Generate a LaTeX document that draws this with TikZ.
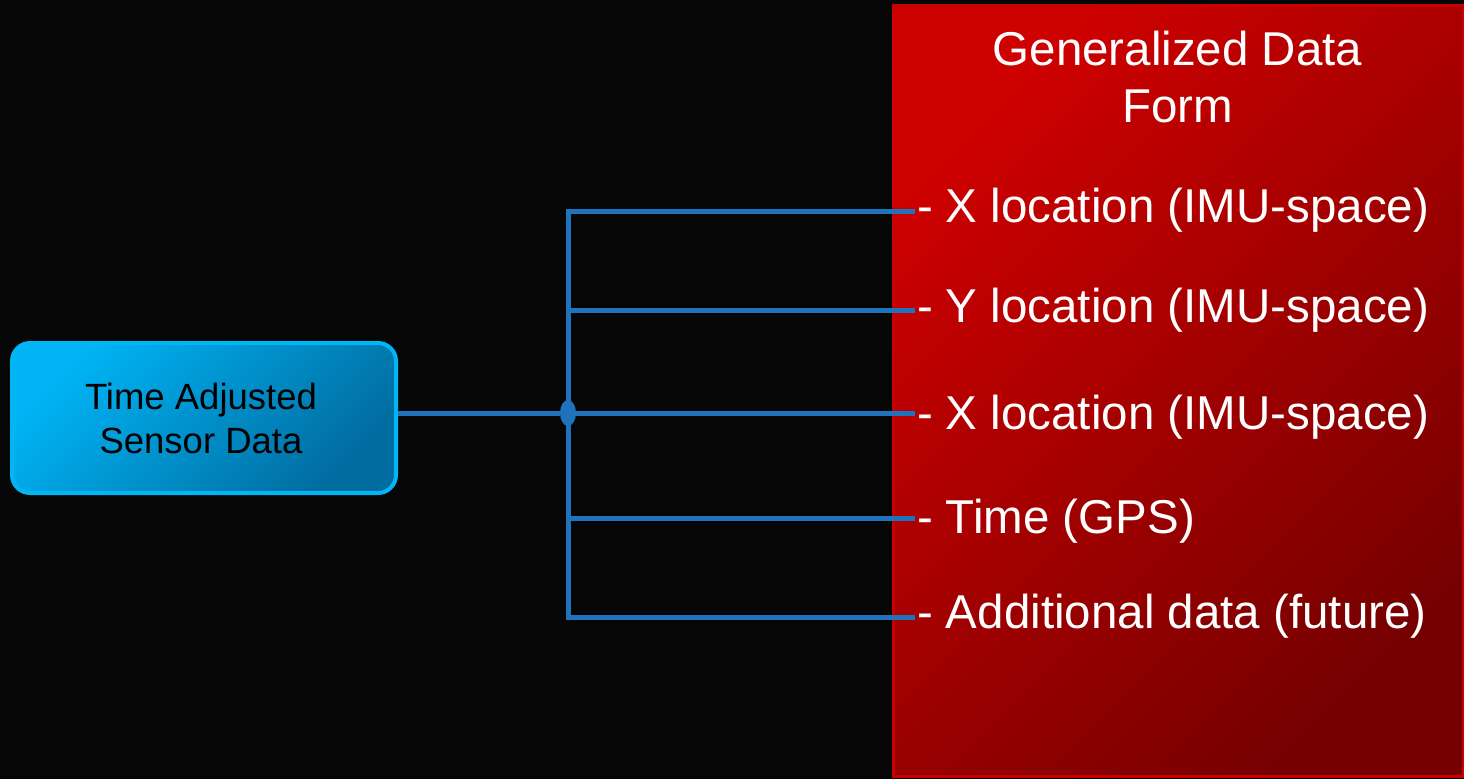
\documentclass[tikz,border=0pt]{standalone}
\usepackage{fontspec}
\setmainfont{Liberation Sans}
\usetikzlibrary{shapes.geometric}
\definecolor{bgc}{RGB}{6,6,6}
\definecolor{busc}{RGB}{30,115,188}
\definecolor{redA}{RGB}{206,0,0}
\definecolor{redB}{RGB}{118,0,0}
\definecolor{redE}{RGB}{200,0,0}
\definecolor{blueA}{RGB}{0,180,245}
\definecolor{blueB}{RGB}{0,108,160}
\definecolor{blueE}{RGB}{0,182,245}
\tikzset{
  bus/.style={draw=busc, line width=5pt},
  itemtxt/.style={anchor=base west, inner sep=0pt, outer sep=0pt, text=white,
    font=\fontsize{47.5}{57}\selectfont},
}
\begin{document}
\begin{tikzpicture}[x=1pt,y=-1pt]
\useasboundingbox (0,0) rectangle (1464,779);
\fill[bgc] (0,0) rectangle (1464,779);
% red panel
\node[draw=redE, line width=3pt, minimum width=570pt, minimum height=771pt,
  inner sep=0pt, top color=redA, bottom color=redB, shading angle=45]
  (gdf) at (1178.5,390.5) {};
\node[anchor=base, inner sep=0pt, align=center, text=white,
  font=\fontsize{47.5}{57}\selectfont] (title) at (1177.5,122) {Generalized Data\\Form};
% source box
\node[draw=blueE, line width=4pt, rounded corners=18pt, minimum width=384pt,
  minimum height=150pt, inner sep=0pt, top color=blueA, bottom color=blueB,
  shading angle=45] (src) at (204,418) {};
\node[anchor=base, inner sep=0pt, align=center, text=black,
  font=\fontsize{36.5}{44}\selectfont] (srclabel) at (201,453) {Time Adjusted\\Sensor Data};
% items
\node[itemtxt] (i1) at (917,222) {- X location (IMU-space)};
\node[itemtxt] (i2) at (917,322) {- Y location (IMU-space)};
\node[itemtxt] (i3) at (917,429) {- X location (IMU-space)};
\node[itemtxt] (i4) at (917,533) {- Time (GPS)};
\node[itemtxt] (i5) at (917,628) {- Additional data (future)};
% junctions
\coordinate (j1) at (568,211);
\coordinate (j2) at (568,310);
\coordinate (j3) at (568,413);
\coordinate (j4) at (568,518);
\coordinate (j5) at (568,617);
\draw[bus] ([yshift=-2.5pt]j1) -- ([yshift=2.5pt]j5);
\draw[bus] ([xshift=-2.5pt]j1) -- ([xshift=-2pt]j1 -| i1.west);
\draw[bus] (j2) -- ([xshift=-2pt]j2 -| i2.west);
\draw[bus] (j3) -- ([xshift=-2pt]j3 -| i3.west);
\draw[bus] (j4) -- ([xshift=-2pt]j4 -| i4.west);
\draw[bus] ([xshift=-2.5pt]j5) -- ([xshift=-2pt]j5 -| i5.west);
\node[ellipse, fill=busc, inner sep=0pt, minimum width=16pt, minimum height=26pt] (dot) at (j3) {};
\draw[bus] (src.east |- dot) -- (dot);
\end{tikzpicture}
\end{document}
